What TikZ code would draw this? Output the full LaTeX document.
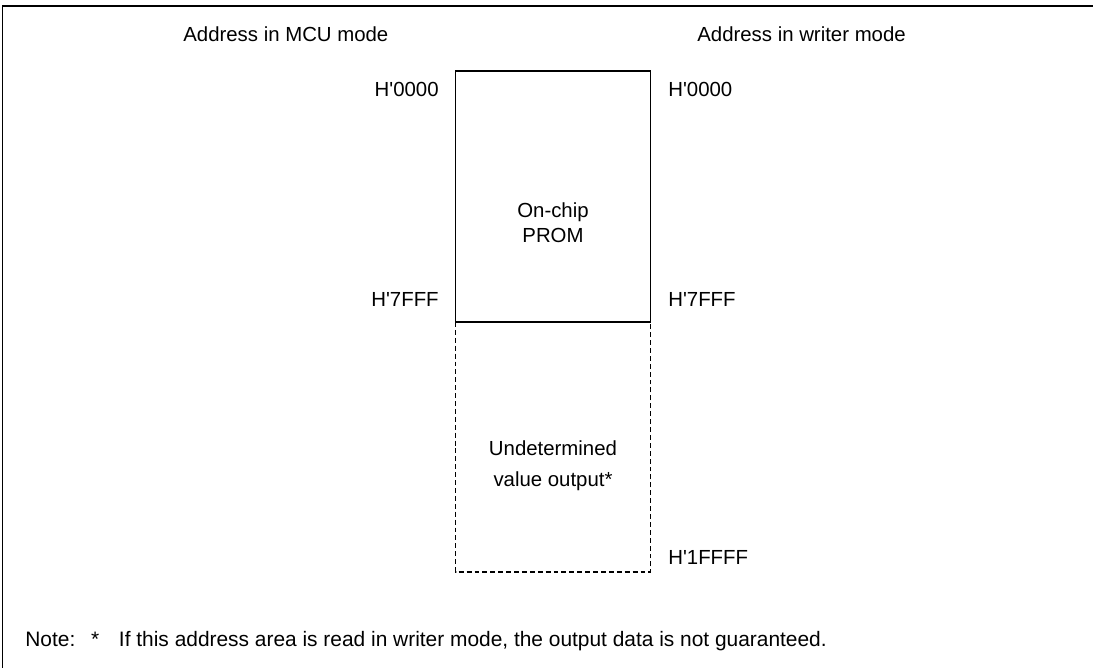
\documentclass[tikz,border=0pt]{standalone}
\usepackage{fontspec}
\setmainfont{Liberation Sans}

\begin{document}
\begin{tikzpicture}[x=0.02cm,y=-0.02cm,every node/.style={font=\fontsize{11.6}{13}\selectfont,inner sep=0pt}]
  \useasboundingbox (0,0) rectangle (1093,668);
  % outer frame (top and left only)
  \draw[line width=0.75pt] (2.5,668) -- (2.5,6) -- (1093,6);
  % memory areas
  \draw[line width=0.6pt] (455.7,71) rectangle (650.7,322);
  \draw[line width=0.6pt,dash pattern=on 2.8pt off 1.7pt] (455.7,322) -- (455.7,572) -- (650.7,572) -- (650.7,322);
  % column heads
  \node[anchor=base west] (mcu) at (183,42) {Address in MCU mode};
  \node[anchor=base west] (wrt) at (697,42) {Address in writer mode};
  % addresses, MCU mode
  \node[anchor=base east] (m0) at (439,97) {H\textquotesingle 0000};
  \node[anchor=base east] (m7) at (439,307) {H\textquotesingle 7FFF};
  % addresses, writer mode
  \node[anchor=base west] (w0) at (668,97) {H\textquotesingle 0000};
  \node[anchor=base west] (w7) at (668,307) {H\textquotesingle 7FFF};
  \node[anchor=base west] (w1) at (668,565) {H\textquotesingle 1FFFF};
  % area labels
  \node[anchor=base] (prom1) at (553,218) {On-chip};
  \node[anchor=base] (prom2) at (553,243) {PROM};
  \node[anchor=base] (und1) at (553,456) {Undetermined};
  \node[anchor=base] (und2) at (553,487) {value output*};
  % note
  \node[anchor=base west,font=\fontsize{11.9}{14}\selectfont] (note) at (25,647) {Note:\hspace{0.75em}*\hspace{0.95em}If this address area is read in writer mode, the output data is not guaranteed.};
\end{tikzpicture}
\end{document}
